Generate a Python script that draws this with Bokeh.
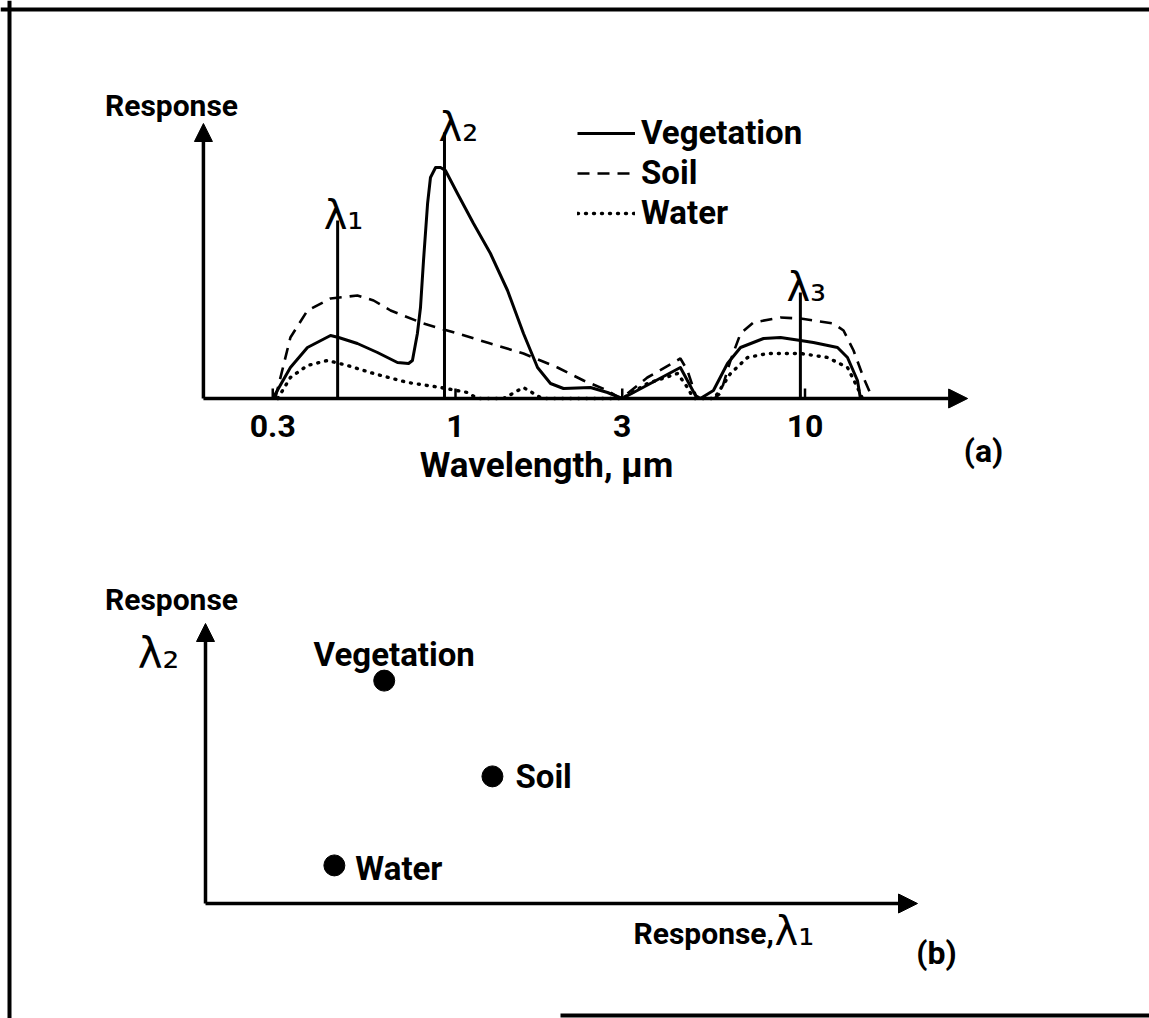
from bokeh.plotting import figure
from bokeh.models import (Range1d, LogScale, LinearScale, Arrow, NormalHead, Label, Span,
                          BoxAnnotation, Legend, LegendItem, ColumnDataSource)
from bokeh.core.properties import value
from bokeh.embed import file_html
from bokeh.resources import INLINE

# ---------------- data: panel (a) spectral response vs wavelength (um) ----------------
VEG_WL = [0.30, 0.337, 0.377, 0.439, 0.463, 0.524, 0.598, 0.682, 0.734, 0.753, 0.778, 0.794,
          0.810, 0.832, 0.848, 0.877, 0.906, 0.936, 1.013, 1.126, 1.259, 1.409, 1.565, 1.717,
          1.870, 2.037, 2.434, 2.722, 3.0, 4.40, 4.86, 5.02, 5.47, 6.00, 6.54, 7.61, 8.51,
          9.71, 10.57, 12.39, 13.23, 14.13, 14.41]
VEG_R = [0, 3.1, 5.1, 6.3, 6.1, 5.5, 4.6, 3.6, 3.5, 3.8, 6.5, 9.1,
         13.8, 19.5, 22.1, 23.1, 23.1, 22.8, 20.5, 17.5, 14.5, 10.8, 6.5, 3.1,
         1.5, 1.0, 1.1, 0.6, 0, 3.1, 0.3, 0, 0.8, 3.5, 5.1, 6.0, 6.1,
         5.8, 5.6, 5.1, 4.1, 1.8, 0]

SOIL_WL = [0.305, 0.337, 0.377, 0.439, 0.524, 0.583, 0.652, 0.810, 1.013, 1.259, 1.565, 1.958,
           2.324, 2.722, 2.966, 3.03, 3.54, 4.40, 4.61, 4.9, 5.5, 5.73, 6.12, 6.54, 7.12,
           8.51, 9.71, 12.07, 12.89, 13.77, 14.70, 15.61]
SOIL_R = [0, 6.1, 8.8, 10.0, 10.3, 9.8, 8.8, 7.5, 6.5, 5.5, 4.5, 3.1,
          1.8, 0.8, 0, 0.2, 2.1, 4.0, 2.8, 0, 0, 0.5, 3.8, 6.5, 7.6,
          8.1, 8.0, 7.5, 6.8, 4.8, 2.1, 0]

WATER_WL = [0.31, 0.337, 0.377, 0.430, 0.491, 0.583, 0.729, 0.906, 1.082, 1.156, 1.372, 1.565,
            1.77, 3.0, 3.17, 3.54, 4.32, 4.61, 4.80, 5.5, 5.62, 6.12, 6.85, 7.81, 9.71, 11.6,
            13.23, 14.13, 14.6]
WATER_R = [0, 2.1, 3.3, 3.8, 3.3, 2.5, 1.6, 1.1, 0.6, 0, 0, 1.1,
           0, 0, 0.5, 1.5, 2.5, 1.1, 0, 0, 0.5, 2.5, 4.1, 4.5, 4.5, 4.1,
           3.1, 1.1, 0]

BANDS = [0.46, 0.93, 9.7]            # lambda_1, lambda_2, lambda_3 (um)
BAND_TOPS = [17.8, 26.6, 10.6]       # height of the band markers
BAND_NAMES = ["λ₁", "λ₂", "λ₃"]

TICKS_A = [0.3, 1, 3, 10]
TICK_LABELS_A = ["0.3", "1", "3", "10"]

A_X_MIN, A_X_MAX = 0.19, 29.2        # wavelength axis extent (um)
A_R_MAX = 27.5                       # response axis extent

# ---------------- data: panel (b) feature space ----------------
CLASSES = ["Vegetation", "Soil", "Water"]
RESP_L1 = [2.51, 4.03, 1.81]
RESP_L2 = [7.96, 4.54, 1.36]
B_MAX = 10.0

# ---------------- figure ----------------
W, H = 1149, 1018
p = figure(width=W, height=H, x_range=Range1d(0, W), y_range=Range1d(H, 0),
           output_backend="svg", toolbar_location=None, min_border=0,
           x_axis_type=None, y_axis_type=None)
p.outline_line_color = None
p.background_fill_color = "white"
p.border_fill_color = "white"

# coordinate systems for the two panels
A_PX1, A_PXDEC, A_BASE, A_PXU = 455.0, 349.5, 398.0, 10.0
B_X0, B_XU, B_BASE, B_YU = 205.0, 71.2, 903.0, 28.0
p.extra_x_ranges = {
    "wl": Range1d(10 ** ((0 - A_PX1) / A_PXDEC), 10 ** ((W - A_PX1) / A_PXDEC)),
    "fb": Range1d((0 - B_X0) / B_XU, (W - B_X0) / B_XU),
}
p.extra_x_scales = {"wl": LogScale(), "fb": LinearScale()}
p.extra_y_ranges = {
    "ra": Range1d((A_BASE - H) / A_PXU, A_BASE / A_PXU),
    "fb": Range1d((B_BASE - H) / B_YU, B_BASE / B_YU),
}

FONT_NAME = "Roboto"
GREEK_NAME = "DejaVu Sans"
FONT = value(FONT_NAME)
GREEK = value(GREEK_NAME)
BLACK = "black"

def head(s):
    return NormalHead(size=s, fill_color=BLACK, line_color=BLACK, line_width=1)

# ---------- panel (a) ----------
A = dict(x_range_name="wl", y_range_name="ra")
p.add_layout(Arrow(end=head(18), x_start=A_X_MIN, y_start=0, x_end=A_X_MIN, y_end=A_R_MAX,
                   line_width=3.5, line_color=BLACK, **A))
p.add_layout(Arrow(end=head(19), x_start=A_X_MIN, y_start=0, x_end=A_X_MAX, y_end=0,
                   line_width=3.5, line_color=BLACK, **A))
p.segment(x0=TICKS_A, y0=[0] * 4, x1=TICKS_A, y1=[1.0] * 4, line_width=2.5, color=BLACK, **A)
p.text(x=TICKS_A, y=[0] * 4, text=TICK_LABELS_A, text_align="center", text_baseline="middle",
       y_offset=27, text_font=FONT, text_font_style="bold", text_font_size="32px",
       text_color=BLACK, **A)

p.segment(x0=BANDS, y0=[0] * 3, x1=BANDS, y1=BAND_TOPS, line_width=3, color=BLACK, **A)
band_src = ColumnDataSource(dict(x=BANDS, y=BAND_TOPS, text=BAND_NAMES, dx=[-14, -6, -14]))
p.text(x="x", y="y", text="text", source=band_src, x_offset="dx", y_offset=-6,
       text_align="left", text_baseline="alphabetic", text_font=GREEK,
       text_font_size="40px", text_color=BLACK, **A)

r_veg = p.line(VEG_WL, VEG_R, line_width=3, color=BLACK, line_join="round", **A)
r_soil = p.line(SOIL_WL, SOIL_R, line_width=2.6, color=BLACK, line_dash="12 8", **A)
r_water = p.line(WATER_WL, WATER_R, line_width=3.4, color=BLACK, line_dash="1 7",
                 line_cap="round", **A)

legend = Legend(items=[LegendItem(label="Vegetation", renderers=[r_veg]),
                       LegendItem(label="Soil", renderers=[r_soil]),
                       LegendItem(label="Water", renderers=[r_water])],
                location=(577, H - 232), glyph_width=58, glyph_height=30, label_height=30,
                label_standoff=6, spacing=1, padding=0, margin=0,
                border_line_color=None, background_fill_alpha=0,
                label_text_font=FONT_NAME, label_text_font_style="bold",
                label_text_font_size="33px", label_text_color=BLACK)
p.add_layout(legend)

def lab(x, y, text, size="32px", align="center", font=FONT_NAME, style="bold"):
    p.add_layout(Label(x=x, y=y, text=text, text_align=align, text_baseline="middle",
                       text_font=font, text_font_style=style, text_font_size=size,
                       text_color=BLACK))

lab(171, 105, "Response", "30px")
lab(546, 465, "Wavelength, μm", "35px")
lab(983, 450, "(a)", "32px")

# ---------- panel (b) ----------
B = dict(x_range_name="fb", y_range_name="fb")
p.add_layout(Arrow(end=head(18), x_start=0, y_start=0, x_end=0, y_end=B_MAX,
                   line_width=3.5, line_color=BLACK, **B))
p.add_layout(Arrow(end=head(19), x_start=0, y_start=0, x_end=B_MAX, y_end=0,
                   line_width=3.5, line_color=BLACK, **B))
p.scatter(RESP_L1, RESP_L2, size=21, color=BLACK, **B)
pt_src = ColumnDataSource(dict(x=RESP_L1, y=RESP_L2, text=CLASSES,
                               align=["center", "left", "left"],
                               dx=[10, 23, 21], dy=[-26, 0, 3]))
p.text(x="x", y="y", text="text", source=pt_src, text_align="align", x_offset="dx",
       y_offset="dy", text_baseline="middle", text_font=FONT, text_font_style="bold",
       text_font_size="33px", text_color=BLACK, **B)

lab(171, 599, "Response", "30px")
lab(158, 653, "λ₂", "42px", font=GREEK_NAME, style="normal")
lab(633, 933, "Response,", "30px", align="left")
lab(774, 930, "λ₁", "40px", align="left", font=GREEK_NAME, style="normal")
lab(936, 952, "(b)", "32px")

# ---------- page frame ----------
p.add_layout(Span(location=9, dimension="height", line_width=4, line_color=BLACK))
p.add_layout(Span(location=9, dimension="width", line_width=4, line_color=BLACK))
p.add_layout(BoxAnnotation(left=560, right=W, top=1013, bottom=1017, fill_color=BLACK,
                           fill_alpha=1, line_color=None))

open("out.html", "w").write(file_html(p, INLINE))
